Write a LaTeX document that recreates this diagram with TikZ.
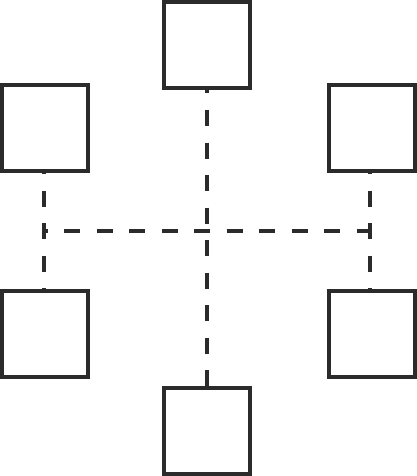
\documentclass[tikz,border=0pt]{standalone}
\definecolor{ink}{HTML}{2B2B2B}
\begin{document}
\begin{tikzpicture}[x=1pt,y=-1pt,
  box/.style={draw=ink,line width=4pt,minimum size=86pt,inner sep=0pt,outer sep=0pt,fill=white},
  link/.style={draw=ink,line width=4pt,dash pattern=on 16pt off 16.5pt}]
\useasboundingbox (0,0) rectangle (417,476);
\node[box] (top) at (206.7,45) {};
\node[box] (tl) at (45.3,128) {};
\node[box] (tr) at (371.5,128) {};
\node[box] (bl) at (45.3,333.7) {};
\node[box] (br) at (371.5,333.7) {};
\node[box] (bot) at (206.7,431) {};
\coordinate (hl) at (43.7,230.7);
\coordinate (hr) at (369.5,230.7);
\draw[link,dash phase=8.5pt] ([yshift=2pt]top.south) -- ([yshift=-2pt]bot.north);
\draw[link,dash phase=10pt] ([xshift=-2pt]hl) -- ([xshift=2pt]hr);
\draw[link,dash phase=11pt] ([xshift=-1.6pt,yshift=2pt]tl.south) -- ([xshift=-1.6pt,yshift=-2pt]bl.north);
\draw[link,dash phase=11pt] ([xshift=-2pt,yshift=2pt]tr.south) -- ([xshift=-2pt,yshift=-2pt]br.north);
\end{tikzpicture}
\end{document}
